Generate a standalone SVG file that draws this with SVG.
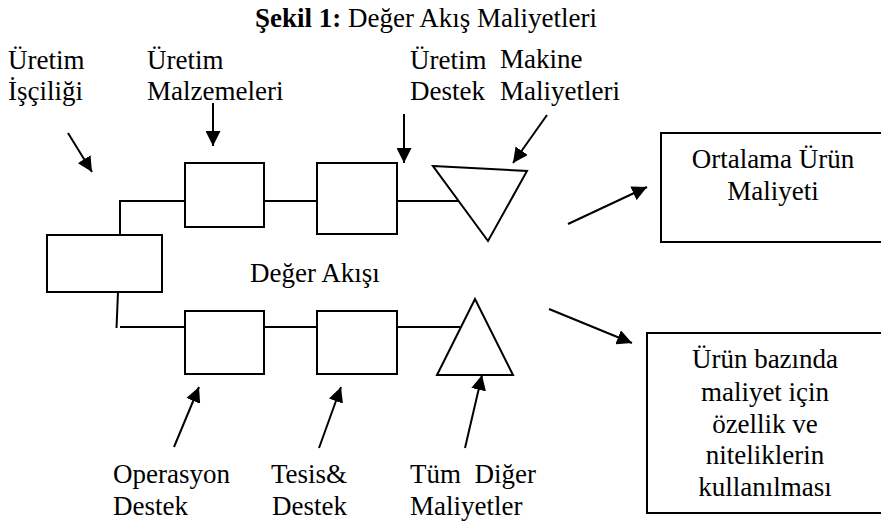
<svg xmlns="http://www.w3.org/2000/svg" width="881" height="521" viewBox="0 0 881 521">
  <defs>
    <marker id="ah" viewBox="0 0 10 10" refX="10" refY="5" markerWidth="15" markerHeight="15" markerUnits="userSpaceOnUse" orient="auto">
      <path d="M0,0 L10,5 L0,10 Z" fill="#000"/>
    </marker>
  </defs>
  <style>
    text { font-family: 'Liberation Serif', 'Times New Roman', 'DejaVu Serif', serif; font-size: 27px; fill: #000; }
    .c { text-anchor: middle; }
    .shape { fill: #fff; stroke: #000; stroke-width: 2; }
    .line { fill: none; stroke: #000; stroke-width: 2; }
    .arrow { fill: none; stroke: #000; stroke-width: 2; marker-end: url(#ah); }
  </style>
  <rect width="881" height="521" fill="#fff"/>

  <g font-family="'Liberation Serif', 'Times New Roman', 'DejaVu Serif', serif">
  <!-- title -->
  <text x="255" y="27"><tspan font-weight="bold">Şekil 1:</tspan> Değer Akış Maliyetleri</text>

  <!-- flow lines between stations -->
  <g id="connectors">
    <polyline class="line" points="120,235 120,201 185,201"/>
    <line class="line" x1="264" y1="201" x2="317" y2="201"/>
    <line class="line" x1="397" y1="201" x2="458" y2="201"/>
    <line class="line" x1="118" y1="292" x2="116.5" y2="328"/>
    <line class="line" x1="120" y1="327" x2="185" y2="327"/>
    <line class="line" x1="264" y1="327" x2="317" y2="327"/>
    <line class="line" x1="397" y1="327" x2="460" y2="327"/>

    <line class="arrow" x1="68" y1="133" x2="92" y2="172"/>
    <line class="arrow" x1="213" y1="103" x2="213" y2="146"/>
    <line class="arrow" x1="404" y1="114" x2="404" y2="163"/>
    <line class="arrow" x1="547" y1="115" x2="513" y2="163"/>
    <line class="arrow" x1="174" y1="447" x2="199" y2="387"/>
    <line class="arrow" x1="319" y1="448" x2="341" y2="387"/>
    <line class="arrow" x1="465" y1="448" x2="482" y2="375"/>
    <line class="arrow" x1="568" y1="224" x2="647" y2="187"/>
    <line class="arrow" x1="549" y1="309" x2="632" y2="343"/>
  </g>

  <!-- input labels -->
  <g id="lbl-iscilik">
    <text x="8" y="69">Üretim</text>
    <text x="8" y="100">İşçiliği</text>
  </g>
  <g id="lbl-malzeme">
    <text x="147" y="69">Üretim</text>
    <text x="147" y="100">Malzemeleri</text>
  </g>
  <g id="lbl-destek">
    <text x="410" y="69">Üretim</text>
    <text x="410" y="100">Destek</text>
  </g>
  <g id="lbl-makine">
    <text x="500" y="68">Makine</text>
    <text x="500" y="100">Maliyetleri</text>
  </g>
  <g id="lbl-operasyon">
    <text x="113" y="483">Operasyon</text>
    <text x="113" y="515">Destek</text>
  </g>
  <g id="lbl-tesis">
    <text x="271" y="483">Tesis&amp;</text>
    <text x="272" y="515">Destek</text>
  </g>
  <g id="lbl-diger">
    <text x="410" y="483" xml:space="preserve">Tüm  Diğer</text>
    <text x="410" y="515">Maliyetler</text>
  </g>

  <!-- stations -->
  <g id="start-box"><rect class="shape" x="47" y="235" width="115" height="57"/></g>
  <g id="box-top-1"><rect class="shape" x="185" y="163" width="79" height="64"/></g>
  <g id="box-top-2"><rect class="shape" x="317" y="163" width="80" height="71"/></g>
  <g id="tri-top"><polygon class="shape" points="433,166 527,171 488,241"/></g>
  <g id="box-bot-1"><rect class="shape" x="185" y="311" width="79" height="63"/></g>
  <g id="box-bot-2"><rect class="shape" x="317" y="311" width="80" height="63"/></g>
  <g id="tri-bot"><polygon class="shape" points="475,299 437,375 513,375"/></g>

  <g id="deger-akisi"><text x="250" y="282">Değer Akışı</text></g>

  <!-- outputs -->
  <g id="out-ortalama">
    <rect class="shape" x="661" y="133" width="230" height="109"/>
    <text class="c" x="773" y="168">Ortalama Ürün</text>
    <text class="c" x="773" y="200">Maliyeti</text>
  </g>
  <g id="out-urun">
    <rect class="shape" x="647" y="333" width="244" height="180"/>
    <text class="c" x="765" y="368">Ürün bazında</text>
    <text class="c" x="765" y="401">maliyet için</text>
    <text class="c" x="765" y="433">özellik ve</text>
    <text class="c" x="765" y="464">niteliklerin</text>
    <text class="c" x="765" y="496">kullanılması</text>
  </g>
  </g>
</svg>
